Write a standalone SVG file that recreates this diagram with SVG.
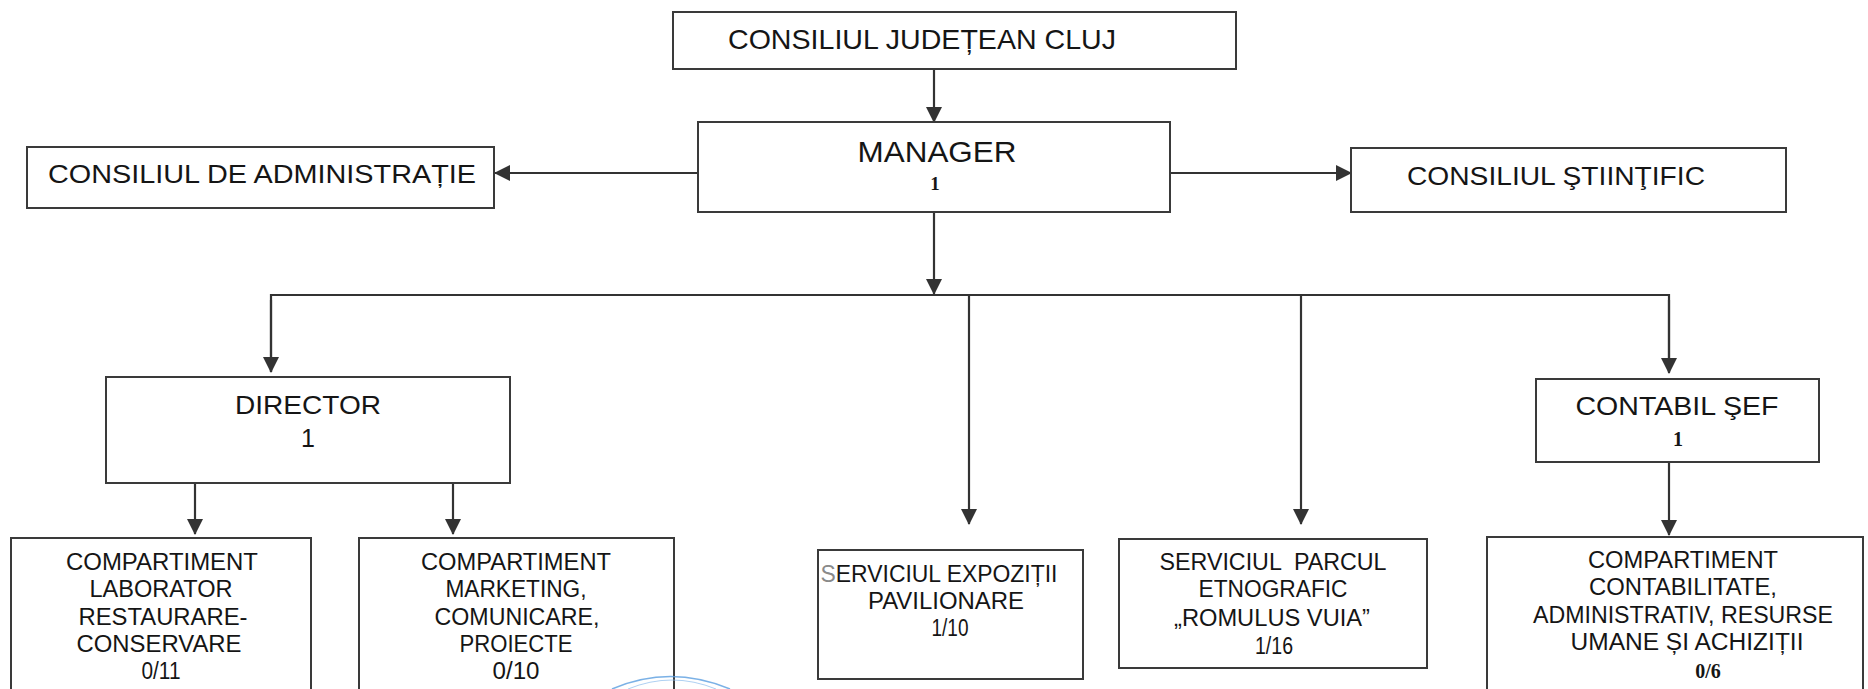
<svg xmlns="http://www.w3.org/2000/svg" width="1868" height="689" viewBox="0 0 1868 689">
<defs>
<marker id="ah" markerUnits="userSpaceOnUse" markerWidth="16" markerHeight="16" refX="15" refY="8" orient="auto">
<path d="M0,0 L16,8 L0,16 Z" fill="#333"/>
</marker>
<style>
.box{fill:#fff;stroke:#3a3a3a;stroke-width:2}
.t{font-family:"Liberation Sans",Arial,sans-serif;fill:#151515;text-anchor:middle}
.n{font-family:"Liberation Serif","Times New Roman",serif;font-weight:bold;fill:#151515;text-anchor:middle}
.c{stroke:#333;stroke-width:2.2;fill:none}
.s22{font-size:23px}
</style>
</defs>
<rect width="1868" height="689" fill="#fff"/>

<g id="connectors">
<line class="c" x1="934" y1="69" x2="934" y2="122" marker-end="url(#ah)"/>
<line class="c" x1="698" y1="173" x2="495" y2="173" marker-end="url(#ah)"/>
<line class="c" x1="1170" y1="173" x2="1351" y2="173" marker-end="url(#ah)"/>
<line class="c" x1="934" y1="212" x2="934" y2="294" marker-end="url(#ah)"/>
<polyline class="c" points="271,372 271,295 1669,295 1669,372"/>
<line class="c" x1="271" y1="300" x2="271" y2="372" marker-end="url(#ah)"/>
<line class="c" x1="969" y1="295" x2="969" y2="524" marker-end="url(#ah)"/>
<line class="c" x1="1301" y1="295" x2="1301" y2="524" marker-end="url(#ah)"/>
<line class="c" x1="1669" y1="300" x2="1669" y2="373" marker-end="url(#ah)"/>
<line class="c" x1="195" y1="483" x2="195" y2="534" marker-end="url(#ah)"/>
<line class="c" x1="453" y1="483" x2="453" y2="534" marker-end="url(#ah)"/>
<line class="c" x1="1669" y1="462" x2="1669" y2="535" marker-end="url(#ah)"/>
</g>

<g id="n-cjc">
<rect class="box" x="673" y="12" width="563" height="57"/>
<text class="t" x="922" y="49" font-size="28" textLength="388" lengthAdjust="spacingAndGlyphs">CONSILIUL JUDEȚEAN CLUJ</text>
</g>

<g id="n-manager">
<rect class="box" x="698" y="122" width="472" height="90"/>
<text class="t" x="937" y="162" font-size="30" textLength="159" lengthAdjust="spacingAndGlyphs">MANAGER</text>
<text class="n" x="935" y="190" font-size="19">1</text>
</g>

<g id="n-admin">
<rect class="box" x="27" y="147" width="467" height="61"/>
<text class="t" x="262" y="183" font-size="25" textLength="428" lengthAdjust="spacingAndGlyphs">CONSILIUL DE ADMINISTRAȚIE</text>
</g>

<g id="n-stiintific">
<rect class="box" x="1351" y="148" width="435" height="64"/>
<text class="t" x="1556" y="185" font-size="25" textLength="298" lengthAdjust="spacingAndGlyphs">CONSILIUL ŞTIINŢIFIC</text>
</g>

<g id="n-director">
<rect class="box" x="106" y="377" width="404" height="106"/>
<text class="t" x="308" y="414" font-size="26" textLength="146" lengthAdjust="spacingAndGlyphs">DIRECTOR</text>
<text class="t" x="308" y="447" font-size="25">1</text>
</g>

<g id="n-contabil">
<rect class="box" x="1536" y="379" width="283" height="83"/>
<text class="t" x="1677" y="415" font-size="25" textLength="203" lengthAdjust="spacingAndGlyphs">CONTABIL ŞEF</text>
<text class="n" x="1678" y="446" font-size="20">1</text>
</g>

<g id="n-laborator">
<rect class="box" x="11" y="538" width="300" height="170"/>
<text class="t s22" x="162" y="570" textLength="192" lengthAdjust="spacingAndGlyphs">COMPARTIMENT</text>
<text class="t s22" x="161" y="597" textLength="143" lengthAdjust="spacingAndGlyphs">LABORATOR</text>
<text class="t s22" x="163" y="625" textLength="169" lengthAdjust="spacingAndGlyphs">RESTAURARE-</text>
<text class="t s22" x="159" y="652" textLength="165" lengthAdjust="spacingAndGlyphs">CONSERVARE</text>
<text class="t s22" x="161" y="679" textLength="39" lengthAdjust="spacingAndGlyphs">0/11</text>
</g>

<g id="n-marketing">
<rect class="box" x="359" y="538" width="315" height="170"/>
<text class="t s22" x="516" y="570" textLength="190" lengthAdjust="spacingAndGlyphs">COMPARTIMENT</text>
<text class="t s22" x="516" y="597" textLength="141" lengthAdjust="spacingAndGlyphs">MARKETING,</text>
<text class="t s22" x="517" y="625" textLength="165" lengthAdjust="spacingAndGlyphs">COMUNICARE,</text>
<text class="t s22" x="516" y="652" textLength="113" lengthAdjust="spacingAndGlyphs">PROIECTE</text>
<text class="t s22" x="516" y="679" textLength="47" lengthAdjust="spacingAndGlyphs">0/10</text>
</g>

<g id="n-expozitii">
<rect class="box" x="818" y="550" width="265" height="129"/>
<text class="t s22" x="939" y="582" textLength="237" lengthAdjust="spacingAndGlyphs"><tspan fill="#8a8a8a">S</tspan>ERVICIUL EXPOZIȚII</text>
<text class="t s22" x="946" y="609" textLength="156" lengthAdjust="spacingAndGlyphs">PAVILIONARE</text>
<text class="t s22" x="950" y="636" textLength="37" lengthAdjust="spacingAndGlyphs">1/10</text>
</g>

<g id="n-parcul">
<rect class="box" x="1119" y="539" width="308" height="129"/>
<text class="t s22" x="1273" y="570" textLength="227" lengthAdjust="spacingAndGlyphs" xml:space="preserve">SERVICIUL  PARCUL</text>
<text class="t s22" x="1273" y="597" textLength="149" lengthAdjust="spacingAndGlyphs">ETNOGRAFIC</text>
<text class="t s22" x="1272" y="626" textLength="196" lengthAdjust="spacingAndGlyphs">„ROMULUS VUIA”</text>
<text class="t s22" x="1274" y="654" textLength="38" lengthAdjust="spacingAndGlyphs">1/16</text>
</g>

<g id="n-contabilitate">
<rect class="box" x="1487" y="537" width="376" height="170"/>
<text class="t s22" x="1683" y="568" textLength="190" lengthAdjust="spacingAndGlyphs">COMPARTIMENT</text>
<text class="t s22" x="1683" y="595" textLength="188" lengthAdjust="spacingAndGlyphs">CONTABILITATE,</text>
<text class="t s22" x="1683" y="623" textLength="300" lengthAdjust="spacingAndGlyphs">ADMINISTRATIV, RESURSE</text>
<text class="t s22" x="1687" y="650" textLength="233" lengthAdjust="spacingAndGlyphs">UMANE ȘI ACHIZIȚII</text>
<text class="n" x="1708" y="678" font-size="20">0/6</text>
</g>

<g id="stamp">
<path d="M612,689 Q670,664 730,689" fill="none" stroke="#5a9ee0" stroke-width="1.6" opacity="0.8"/>
<path d="M628,689 Q672,671 716,689" fill="none" stroke="#8bbcec" stroke-width="1" opacity="0.7"/>
</g>
</svg>
